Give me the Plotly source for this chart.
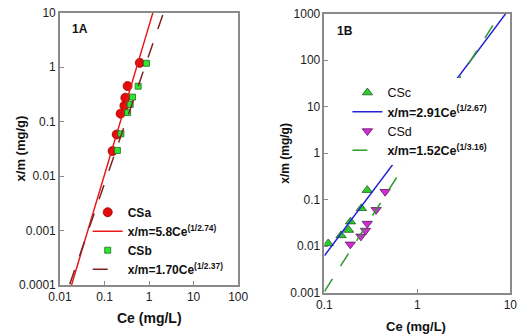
import numpy as np
import plotly.graph_objects as go

# ---------------- Data: panel 1A ----------------
csa_ce = [0.152, 0.188, 0.23, 0.28, 0.294, 0.33, 0.62]
csa_xm = [0.0288, 0.058, 0.14, 0.196, 0.275, 0.45, 1.2]
csb_ce = [0.195, 0.234, 0.331, 0.377, 0.425, 0.57, 0.875]
csb_xm = [0.0295, 0.0597, 0.146, 0.206, 0.282, 0.447, 1.18]
fitA_names = ["<b>x/m=5.8Ce<sup>(1/2.74)</sup></b>", "<b>x/m=1.70Ce<sup>(1/2.37)</sup></b>"]
fitA_K = [5.8, 1.70]
fitA_n = [2.74, 2.37]

# ---------------- Data: panel 1B ----------------
csc_ce = [0.11, 0.151, 0.182, 0.191, 0.25, 0.289]
csc_xm = [0.0114, 0.017, 0.0222, 0.0336, 0.065, 0.16]
csd_ce = [0.19, 0.247, 0.277, 0.289, 0.36, 0.45]
csd_xm = [0.0109, 0.0162, 0.0216, 0.0305, 0.0603, 0.148]
fitB_names = ["<b>x/m=2.91Ce<sup>(1/2.67)</sup></b>", "<b>x/m=1.52Ce<sup>(1/3.16)</sup></b>"]
fitB_K = [2.91, 1.52]
fitB_n = [2.67, 3.16]

# ---------------- Tick labels ----------------
xA_ticks = [0.01, 0.1, 1, 10, 100]
xA_text = ["0.01", "0.1", "1", "10", "100"]
yA_ticks = [0.0001, 0.001, 0.01, 0.1, 1, 10]
yA_text = ["0.0001", "0.001", "0.01", "0.1", "1", "10"]
xB_ticks = [0.1, 1, 10]
xB_text = ["0.1", "1", "10"]
yB_ticks = [0.001, 0.01, 0.1, 1, 10, 100, 1000]
yB_text = ["0.001", "0.01", "0.1", "1", "10", "100", "1000"]

W, H = 528, 336
FONT = "Liberation Sans, Arial, sans-serif"

def px_x(p):
    return p / W

def px_y(p):
    return (H - p) / H

fig = go.Figure()

# Panel A
fig.add_trace(go.Scatter(x=csa_ce, y=csa_xm, mode="markers", name="<b>CSa</b>",
                         marker=dict(symbol="circle", size=9, color="#e30b0b",
                                     line=dict(color="#9a0000", width=0.8)),
                         xaxis="x", yaxis="y", legend="legend"))
xa = np.logspace(-2, 2, 300)
fig.add_trace(go.Scatter(x=xa, y=fitA_K[0] * xa ** fitA_n[0], mode="lines", name=fitA_names[0],
                         line=dict(color="#e8191b", width=1.5),
                         xaxis="x", yaxis="y", legend="legend"))
fig.add_trace(go.Scatter(x=csb_ce, y=csb_xm, mode="markers", name="<b>CSb</b>",
                         marker=dict(symbol="square", size=6, color="#2ee52e",
                                     line=dict(color="#1f6e1f", width=0.8)),
                         xaxis="x", yaxis="y", legend="legend"))
fig.add_trace(go.Scatter(x=xa, y=fitA_K[1] * xa ** fitA_n[1], mode="lines", name=fitA_names[1],
                         line=dict(color="#7a2424", width=1.5, dash="longdash"),
                         xaxis="x", yaxis="y", legend="legend"))

# Panel B
xb = np.logspace(-1, 1, 300)
fig.add_trace(go.Scatter(x=csc_ce, y=csc_xm, mode="markers", name="CSc",
                         marker=dict(symbol="triangle-up", size=9, color="#2ecc2e",
                                     line=dict(color="#1a5a1a", width=0.8)),
                         xaxis="x2", yaxis="y2", legend="legend2"))
fig.add_trace(go.Scatter(x=xb, y=fitB_K[0] * xb ** fitB_n[0], mode="lines", name=fitB_names[0],
                         line=dict(color="#2323d6", width=1.5),
                         xaxis="x2", yaxis="y2", legend="legend2"))
fig.add_trace(go.Scatter(x=csd_ce, y=csd_xm, mode="markers", name="CSd",
                         marker=dict(symbol="triangle-down", size=9, color="#d42ad4",
                                     line=dict(color="#5a1a5a", width=0.8)),
                         xaxis="x2", yaxis="y2", legend="legend2"))
fig.add_trace(go.Scatter(x=xb, y=fitB_K[1] * xb ** fitB_n[1], mode="lines", name=fitB_names[1],
                         line=dict(color="#2f9a2f", width=1.5, dash="longdash"),
                         xaxis="x2", yaxis="y2", legend="legend2"))

axis_common = dict(type="log", showgrid=False, zeroline=False, showline=True,
                   linecolor="#8a8a8a", linewidth=1.5, mirror=True,
                   ticks="inside", ticklen=4, tickcolor="#8a8a8a", tickwidth=1,
                   tickmode="array", tickfont=dict(family=FONT, size=12, color="#222"))

fig.update_layout(
    width=W, height=H, autosize=False,
    margin=dict(l=0, r=0, t=0, b=0),
    paper_bgcolor="white", plot_bgcolor="white",
    font=dict(family=FONT, color="#111"),
    xaxis=dict(axis_common, domain=[px_x(50), px_x(236)], range=[-2, 2],
               tickvals=xA_ticks, ticktext=xA_text, anchor="y"),
    yaxis=dict(axis_common, domain=[px_y(290), px_y(6)], range=[-4, 1],
               tickvals=yA_ticks, ticktext=yA_text, anchor="x"),
    xaxis2=dict(axis_common, domain=[px_x(326), px_x(520)], range=[-1, 1],
                tickvals=xB_ticks, ticktext=xB_text, anchor="y2"),
    yaxis2=dict(axis_common, domain=[px_y(298), px_y(7)], range=[-3, 3],
                tickvals=yB_ticks, ticktext=yB_text, anchor="x2"),
    legend=dict(x=px_x(79), y=px_y(199), xanchor="left", yanchor="top",
                bgcolor="rgba(255,255,255,0)", borderwidth=0,
                font=dict(family=FONT, size=12, color="#111"),
                itemwidth=30, tracegroupgap=0),
    legend2=dict(x=px_x(350), y=px_y(74), xanchor="left", yanchor="top",
                 bgcolor="white", borderwidth=0,
                 font=dict(family=FONT, size=12.5, color="#111"),
                 itemwidth=30, tracegroupgap=0),
    showlegend=True,
)

annotations = [
    dict(text="<b>1A</b>", x=px_x(61), y=px_y(23), xanchor="left", yanchor="middle",
         font=dict(size=12, family=FONT, color="#111")),
    dict(text="<b>1B</b>", x=px_x(337), y=px_y(25), xanchor="left", yanchor="middle",
         font=dict(size=12, family=FONT, color="#111")),
    dict(text="<b>x/m (mg/g)</b>", x=px_x(9), y=px_y(148), textangle=-90,
         xanchor="center", yanchor="middle", font=dict(size=13, family=FONT, color="#111")),
    dict(text="<b>x/m (mg/g)</b>", x=px_x(284), y=px_y(153), textangle=-90,
         xanchor="center", yanchor="middle", font=dict(size=12, family=FONT, color="#111")),
    dict(text="<b>Ce (mg/L)</b>", x=px_x(143), y=px_y(324), xanchor="center", yanchor="middle",
         font=dict(size=14, family=FONT, color="#111")),
    dict(text="<b>Ce (mg/L)</b>", x=px_x(422), y=px_y(333), xanchor="center", yanchor="middle",
         font=dict(size=13, family=FONT, color="#111")),
]
for a in annotations:
    a.update(xref="paper", yref="paper", showarrow=False)
fig.update_layout(annotations=annotations)

fig.write_html("out.html")
